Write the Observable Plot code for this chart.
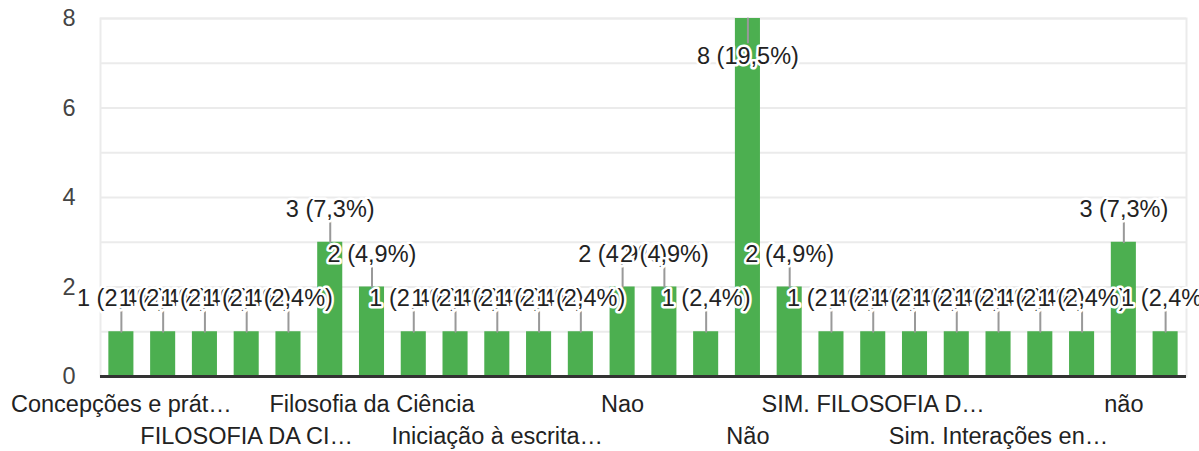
<!DOCTYPE html>
<html>
<head>
<meta charset="utf-8">
<script src="https://cdn.jsdelivr.net/npm/d3@7"></script>
<script src="https://cdn.jsdelivr.net/npm/@observablehq/plot@0.6"></script>
<style>
  html, body { margin: 0; padding: 0; background: white; }
</style>
</head>
<body>
<div id="chart"></div>
<script>
const categories = [
  "Concepções e prát…", "Resposta 2", "Resposta 3", "FILOSOFIA DA CI…", "Resposta 5",
  "Resposta 6", "Filosofia da Ciência", "Resposta 8", "Resposta 9", "Iniciação à escrita…",
  "Resposta 11", "Resposta 12", "Nao", "Resposta 14", "Resposta 15",
  "Não", "Resposta 17", "Resposta 18", "SIM. FILOSOFIA D…", "Resposta 20",
  "Resposta 21", "Sim. Interações en…", "Resposta 23", "Resposta 24", "não", "Resposta 26"
];
const values = [1, 1, 1, 1, 1, 3, 2, 1, 1, 1, 1, 1, 2, 2, 1, 8, 2, 1, 1, 1, 1, 1, 1, 1, 3, 1];
const yTicks = [0, 2, 4, 6, 8];
const gridValues = [1, 2, 3, 4, 5, 6, 7, 8];
const row1Ticks = ["Concepções e prát…", "Filosofia da Ciência", "Nao", "SIM. FILOSOFIA D…", "não"];
const row2Ticks = ["FILOSOFIA DA CI…", "Iniciação à escrita…", "Não", "Sim. Interações en…"];

const total = d3.sum(values);
const maxValue = d3.max(values);
const rows = categories.map((c, i) => {
  const v = values[i];
  const pct = (v / total * 100).toFixed(1).replace(".", ",");
  return { category: c, value: v, label: `${v} (${pct}%)` };
});
const normalRows = rows.filter(d => d.value !== maxValue);
const maxRows = rows.filter(d => d.value === maxValue);

const FS = 23.5;
const chart = Plot.plot({
  width: 1199,
  height: 451,
  marginLeft: 100,
  marginRight: 13,
  marginTop: 18,
  marginBottom: 75,
  style: { fontFamily: "'Liberation Sans', Arial, sans-serif", fontSize: FS + "px", background: "white", overflow: "visible" },
  x: { domain: categories, paddingInner: 0.4, paddingOuter: 0.2, round: false },
  y: { domain: [0, 8] },
  marks: [
    Plot.gridY(gridValues, { stroke: "#ebebeb", strokeOpacity: 1, strokeWidth: 2 }),
    Plot.frame({ stroke: "#ebebeb", strokeWidth: 2 }),
    Plot.barY(rows, { x: "category", y: "value", fill: "#4caf50" }),
    Plot.ruleY([0], { stroke: "#333", strokeWidth: 3 }),
    Plot.axisY({ ticks: yTicks, tickSize: 0, tickPadding: 25, fontSize: FS, fill: "#444", label: null }),
    Plot.axisX({ ticks: row1Ticks, tickSize: 0, tickPadding: 19, fontSize: FS, fill: "#222", label: null }),
    Plot.axisX({ ticks: row2Ticks, tickSize: 0, tickPadding: 51, fontSize: FS, fill: "#222", label: null }),
    Plot.vector(normalRows, { x: "category", y: "value", length: 21, rotate: 0, anchor: "start", r: 0, stroke: "#999", strokeWidth: 2 }),
    Plot.vector(maxRows, { x: "category", y: "value", length: 24, rotate: 180, anchor: "start", r: 0, stroke: "#999", strokeWidth: 2 }),
    Plot.text(normalRows, { x: "category", y: "value", text: "label", dy: -33, lineAnchor: "middle", fill: "#222", stroke: "white", strokeWidth: 5, fontSize: FS }),
    Plot.text(maxRows, { x: "category", y: "value", text: "label", dy: 38, lineAnchor: "middle", fill: "#222", stroke: "white", strokeWidth: 5, fontSize: FS })
  ]
});
document.getElementById("chart").appendChild(chart);
</script>
</body>
</html>
